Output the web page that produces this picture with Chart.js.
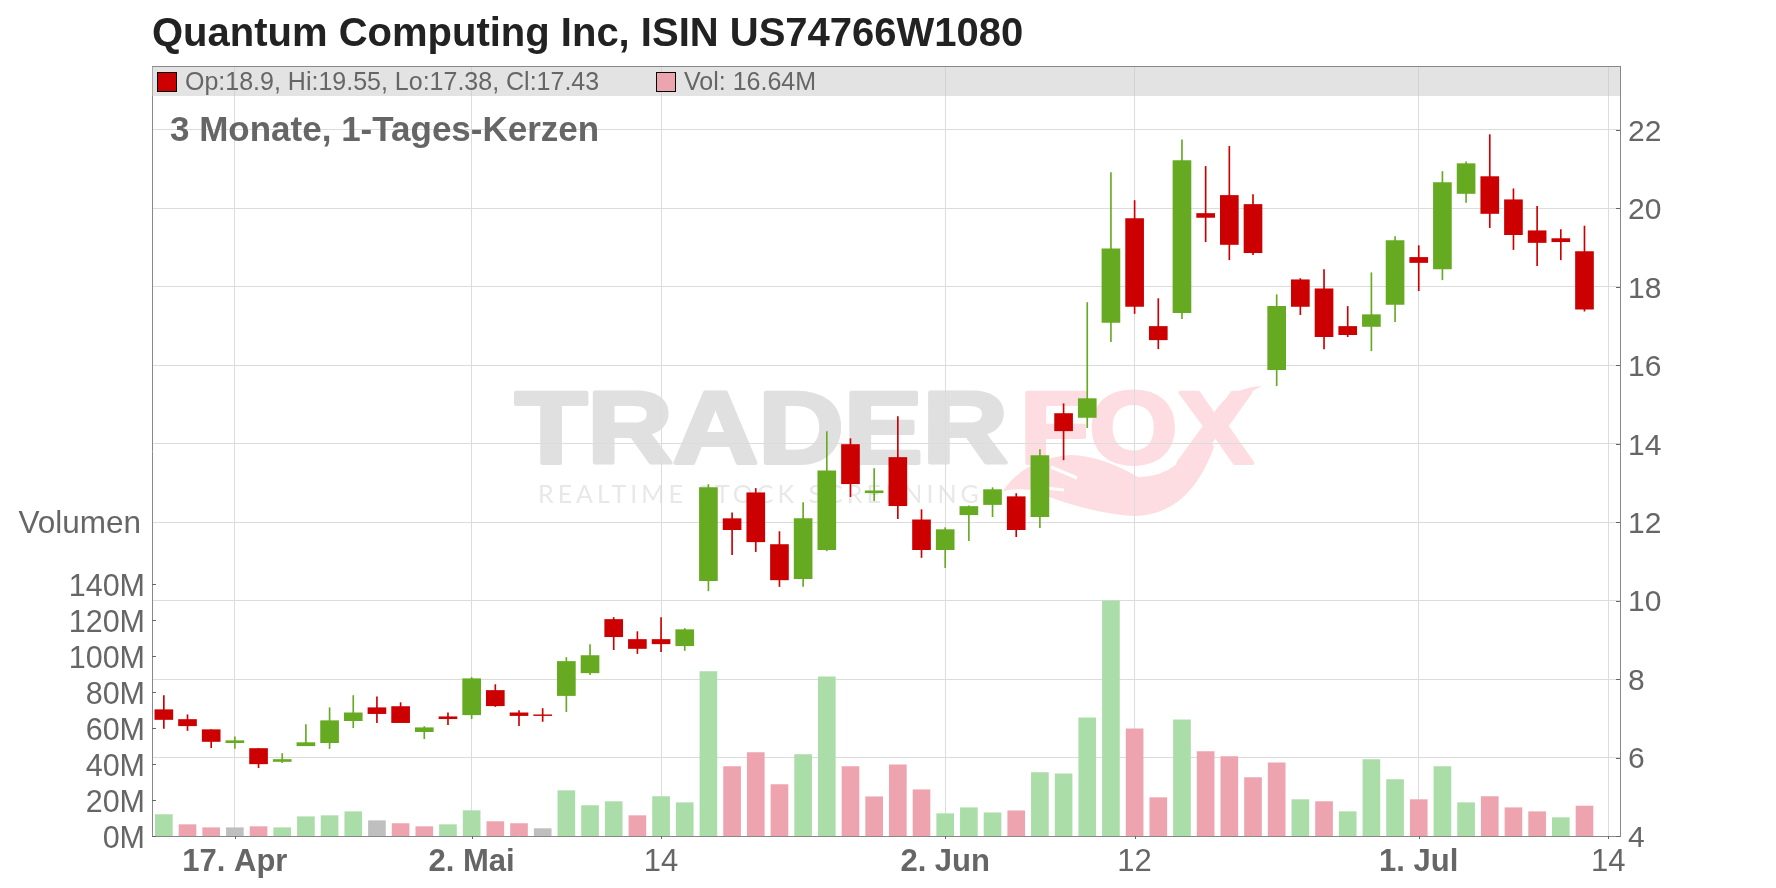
<!DOCTYPE html>
<html>
<head>
<meta charset="utf-8">
<title>Quantum Computing Inc</title>
<script src="https://cdn.jsdelivr.net/npm/chart.js@4"></script>
<style>
    html, body { margin: 0; padding: 0; background: #fff; }
    canvas { display: block; }
</style>
</head>
<body>
<canvas id="chart" width="1776" height="888"></canvas>
<script>
// Tick labels sit in the category list, blank days have no label
const categories = [
    '', '', '', '17. Apr', '', '', '', '', '', '', '', '', '', '2. Mai', '', '', '', '', '', '', '', '14',
    '', '', '', '', '', '', '', '', '', '', '', '2. Jun', '', '', '', '', '', '', '', '12',
    '', '', '', '', '', '', '', '', '', '', '', '1. Jul', '', '', '', '', '', '', '', '14'
];

const opens = [
    7.22, 6.97, 6.71, 6.38, 6.23, 5.90, 6.30, 6.38, 6.94, 7.27, 7.30, 6.66, 7.04, 7.09, 7.71, 7.14,
    7.09, 7.58, 8.16, 9.52, 9.01, 9.01, 8.85, 10.51, 12.09, 12.75, 11.43, 10.56, 11.30, 13.98, 12.75,
    13.65, 12.06, 11.30, 12.19, 12.45, 12.65, 12.14, 14.77, 14.67, 17.09, 19.74, 16.99, 17.34, 19.87,
    20.33, 20.10, 15.89, 18.18, 17.95, 16.99, 16.99, 17.55, 18.75, 18.46, 20.38, 20.81, 20.22, 19.43,
    19.23, 18.90
];
const highs = [
    7.58, 7.09, 6.71, 6.53, 6.23, 6.10, 6.84, 7.27, 7.58, 7.55, 7.40, 6.79, 7.14, 8.04, 7.86, 7.20,
    7.25, 8.55, 8.88, 9.57, 9.21, 9.57, 9.29, 12.96, 12.24, 12.86, 11.76, 12.50, 14.31, 14.13, 13.37,
    14.69, 12.32, 11.86, 12.42, 12.88, 12.73, 13.85, 15.02, 17.60, 20.91, 20.20, 17.70, 21.75, 21.07,
    21.58, 20.35, 17.80, 18.21, 18.44, 17.50, 18.36, 19.28, 19.05, 20.94, 21.19, 21.88, 20.50, 20.05,
    19.46, 19.55
];
const lows = [
    6.74, 6.69, 6.25, 6.23, 5.74, 5.87, 6.30, 6.23, 6.76, 6.89, 6.89, 6.48, 6.84, 6.99, 7.30, 6.81,
    6.92, 7.17, 8.11, 8.75, 8.65, 8.70, 8.73, 10.25, 11.17, 11.25, 10.36, 10.36, 11.27, 12.65, 12.55,
    12.09, 11.10, 10.84, 11.53, 12.14, 11.63, 11.86, 13.59, 14.41, 16.60, 17.32, 16.42, 17.19, 19.15,
    18.69, 18.82, 15.48, 17.29, 16.42, 16.73, 16.37, 17.11, 17.90, 18.18, 20.15, 19.51, 18.95, 18.54,
    18.69, 17.38
];
const closes = [
    6.97, 6.81, 6.41, 6.43, 5.84, 5.95, 6.38, 6.94, 7.14, 7.12, 6.89, 6.76, 6.99, 8.01, 7.32, 7.07,
    7.07, 8.45, 8.60, 9.08, 8.78, 8.90, 9.26, 12.88, 11.81, 11.50, 10.53, 12.09, 13.31, 12.98, 12.80,
    12.42, 11.30, 11.81, 12.40, 12.83, 11.81, 13.70, 14.33, 15.15, 18.97, 17.50, 16.65, 21.22, 19.77,
    19.08, 18.87, 17.50, 17.50, 16.73, 16.78, 17.29, 19.18, 18.62, 20.66, 21.14, 19.87, 19.33, 19.13,
    19.15, 17.43
];

// Volume in millions
const volumes = [
    11.9, 6.3, 4.6, 4.6, 5.2, 4.6, 10.7, 11.3, 13.5, 8.5, 6.9, 5.2, 6.3, 14.1, 8.0, 6.9,
    4.1, 25.2, 16.9, 19.1, 11.3, 21.9, 18.5, 91.3, 38.5, 46.3, 28.5, 45.2, 88.5, 38.5, 21.8,
    39.6, 25.7, 12.4, 15.7, 12.9, 14.0, 35.2, 34.6, 65.7, 130.7, 59.6, 21.3, 64.6, 46.9,
    44.1, 32.4, 40.7, 20.2, 19.1, 13.5, 42.4, 31.3, 20.2, 38.5, 18.5, 21.9, 15.7, 13.5,
    10.2, 16.64
];
// u = up day, d = down day, n = unchanged
const volumeMoves = ('uddnduuuundduuddnuuuduuu' + 'ddduuddddu' + 'uuduuuuddu' + 'ddddu' + 'duuud' + 'uudddud').split('');

const priceTicks = [4, 6, 8, 10, 12, 14, 16, 18, 20, 22];
const volumeTicks = [0, 20, 40, 60, 80, 100, 120, 140];

const chartTitle = 'Quantum Computing Inc, ISIN US74766W1080';
const chartSubtitle = '3 Monate, 1-Tages-Kerzen';
const priceLegend = 'Op:18.9, Hi:19.55, Lo:17.38, Cl:17.43';
const volumeLegend = 'Vol: 16.64M';
const volumeTitle = 'Volumen';

const GREEN = '#66aa22';
const RED = '#cc0000';
const LIGHT_GREEN = '#abdda9';
const PINK = '#eea4af';
const LIGHT_GREY = '#bfbfbf';
const TEXT = '#666666';
const GRID = '#dcdcdc';
const AXIS = '#888888';
const FONT = '"Liberation Sans", Arial, sans-serif';

const candleColors = closes.map((c, i) => (c >= opens[i] ? GREEN : RED));
const moveColors = { u: LIGHT_GREEN, d: PINK, n: LIGHT_GREY };

// Watermark goes first so the grid lines stay on top of it
const watermark = {
    id: 'watermark',
    beforeDraw(chart) {
        const { ctx } = chart;
        const logoPink = '#fddde1';
        ctx.save();
        ctx.textBaseline = 'alphabetic';
        ctx.textAlign = 'left';
        ctx.lineJoin = 'round';
        ctx.font = 'bold 102px ' + FONT;
        const grey = ctx.createLinearGradient(0, 388, 0, 465);
        grey.addColorStop(0, '#e0e0e0');
        grey.addColorStop(1, '#f1f1f1');
        stretchText(ctx, 'TRADER', 515, 463, 493, grey);
        stretchText(ctx, 'FOX', 1020, 463, 233, logoPink);

        // Fox tail
        ctx.fillStyle = logoPink;
        ctx.beginPath();
        ctx.moveTo(1002, 492);
        ctx.quadraticCurveTo(1025, 458, 1071, 455);
        ctx.quadraticCurveTo(1102, 456, 1138, 477);
        ctx.quadraticCurveTo(1180, 478, 1204, 427);
        ctx.lineTo(1214, 447);
        ctx.quadraticCurveTo(1189, 516, 1133, 516);
        ctx.quadraticCurveTo(1087, 513, 1031, 490);
        ctx.quadraticCurveTo(1010, 488, 1002, 492);
        ctx.closePath();
        ctx.moveTo(1208, 425);
        ctx.quadraticCurveTo(1222, 388, 1262, 386);
        ctx.quadraticCurveTo(1234, 398, 1218, 440);
        ctx.closePath();
        ctx.fill();

        // Slits in the tail
        ctx.strokeStyle = '#ffffff';
        ctx.lineWidth = 3;
        ctx.beginPath();
        ctx.moveTo(1051, 467);
        ctx.lineTo(1077, 478);
        ctx.moveTo(1036, 487);
        ctx.lineTo(1064, 490);
        ctx.stroke();

        ctx.font = '25px Lato, ' + FONT;
        ctx.letterSpacing = '4px';
        ctx.fillStyle = '#e8e8e8';
        ctx.fillText('REALTIME STOCK SCREENING', 538, 503);
        ctx.restore();
    }
};

function stretchText(ctx, text, x, y, width, fill) {
    ctx.save();
    ctx.translate(x, y);
    ctx.scale(width / ctx.measureText(text).width, 1);
    ctx.fillStyle = fill;
    ctx.strokeStyle = fill;
    ctx.lineWidth = 4;
    ctx.fillText(text, 0, 0);
    ctx.strokeText(text, 0, 0);
    ctx.restore();
}

// Grey band under the candles
const band = {
    id: 'band',
    beforeDatasetsDraw(chart) {
        const { ctx, chartArea: area } = chart;
        ctx.save();
        ctx.fillStyle = 'rgba(200, 200, 200, 0.5)';
        ctx.fillRect(area.left, area.top, area.right - area.left, 30);
        ctx.restore();
    }
};

// Frame, inner tick marks, legend row and subtitle
const overlay = {
    id: 'overlay',
    afterDraw(chart) {
        const { ctx, chartArea: area, scales } = chart;
        ctx.save();

        ctx.strokeStyle = AXIS;
        ctx.lineWidth = 1;
        ctx.beginPath();
        ctx.moveTo(area.left, area.top + 0.5);
        ctx.lineTo(area.right, area.top + 0.5);
        ctx.stroke();

        ctx.strokeStyle = '#666666';
        ctx.beginPath();
        scales.y.ticks.forEach(t => {
            const y = Math.round(scales.y.getPixelForValue(t.value)) + 0.5;
            ctx.moveTo(area.right - 4, y);
            ctx.lineTo(area.right, y);
        });
        scales.y2.ticks.forEach(t => {
            const y = Math.round(scales.y2.getPixelForValue(t.value)) + 0.5;
            ctx.moveTo(area.left, y);
            ctx.lineTo(area.left + 4, y);
        });
        scales.x.ticks.forEach(t => {
            const x = Math.round(scales.x.getPixelForValue(t.value)) + 0.5;
            ctx.moveTo(x, area.bottom);
            ctx.lineTo(x, area.bottom + 3);
        });
        ctx.stroke();

        // Legend row
        ctx.strokeStyle = '#000000';
        ctx.fillStyle = RED;
        ctx.fillRect(158, 73, 18, 18);
        ctx.strokeRect(157.5, 72.5, 19, 19);
        ctx.fillStyle = PINK;
        ctx.fillRect(657, 73, 18, 18);
        ctx.strokeRect(656.5, 72.5, 19, 19);

        ctx.fillStyle = TEXT;
        ctx.textBaseline = 'alphabetic';
        ctx.textAlign = 'left';
        ctx.font = '25px ' + FONT;
        ctx.fillText(priceLegend, 185, 90);
        ctx.fillText(volumeLegend, 684, 90);

        ctx.font = 'bold 35px ' + FONT;
        ctx.fillText(chartSubtitle, 170, 141);

        ctx.textAlign = 'right';
        ctx.font = '31.5px ' + FONT;
        ctx.fillText(volumeTitle, 141, 533);

        ctx.restore();
    }
};

new Chart(document.getElementById('chart'), {
    data: {
        labels: categories,
        datasets: [
            {
                type: 'bar',
                label: 'Kerze',
                data: opens.map((o, i) => [o, closes[i]]),
                backgroundColor: candleColors,
                barThickness: 18,
                grouped: false,
                yAxisID: 'y',
                order: 0
            },
            {
                type: 'bar',
                label: 'Docht',
                data: lows.map((l, i) => [l, highs[i]]),
                backgroundColor: candleColors,
                barThickness: 1,
                grouped: false,
                yAxisID: 'y',
                order: 1
            },
            {
                type: 'bar',
                label: 'Volumen',
                data: volumes,
                backgroundColor: volumeMoves.map(m => moveColors[m]),
                barThickness: 17,
                grouped: false,
                yAxisID: 'y2',
                order: 2
            }
        ]
    },
    options: {
        responsive: false,
        animation: false,
        layout: { padding: 0 },
        plugins: {
            legend: { display: false },
            tooltip: { enabled: false },
            title: {
                display: true,
                text: chartTitle,
                align: 'start',
                fullSize: false,
                color: '#222222',
                font: { family: FONT, size: 40, weight: 'bold' },
                padding: { top: 10.5, bottom: 7.5 }
            }
        },
        scales: {
            x: {
                type: 'category',
                offset: true,
                afterBuildTicks: axis => {
                    axis.ticks = axis.ticks.filter(t => categories[t.value] !== '');
                },
                afterFit: axis => { axis.height = 52; },
                grid: { color: GRID, offset: false, drawTicks: false },
                border: { color: AXIS },
                ticks: {
                    autoSkip: false,
                    maxRotation: 0,
                    padding: 8,
                    color: TEXT,
                    font: ctx => ({
                        family: FONT,
                        size: 31,
                        weight: /[a-z]/i.test(ctx.tick.label) ? 'bold' : 'normal'
                    })
                }
            },
            y: {
                position: 'right',
                min: 4,
                max: 23.63,
                afterBuildTicks: axis => {
                    axis.ticks = priceTicks.map(v => ({ value: v }));
                },
                afterFit: axis => { axis.width = 156; },
                grid: { color: GRID, drawTicks: false },
                border: { color: AXIS },
                ticks: {
                    padding: 8,
                    labelOffset: 2.5,
                    color: TEXT,
                    font: { family: FONT, size: 30 }
                }
            },
            y2: {
                position: 'left',
                min: 0,
                max: 427.8,
                afterBuildTicks: axis => {
                    axis.ticks = volumeTicks.map(v => ({ value: v }));
                },
                afterFit: axis => { axis.width = 152; },
                grid: { display: false, drawTicks: false },
                border: { color: AXIS },
                ticks: {
                    padding: 7,
                    labelOffset: 4,
                    color: TEXT,
                    font: { family: FONT, size: 30.5 },
                    callback: value => value + 'M'
                }
            }
        }
    },
    plugins: [watermark, band, overlay]
});
</script>
</body>
</html>
